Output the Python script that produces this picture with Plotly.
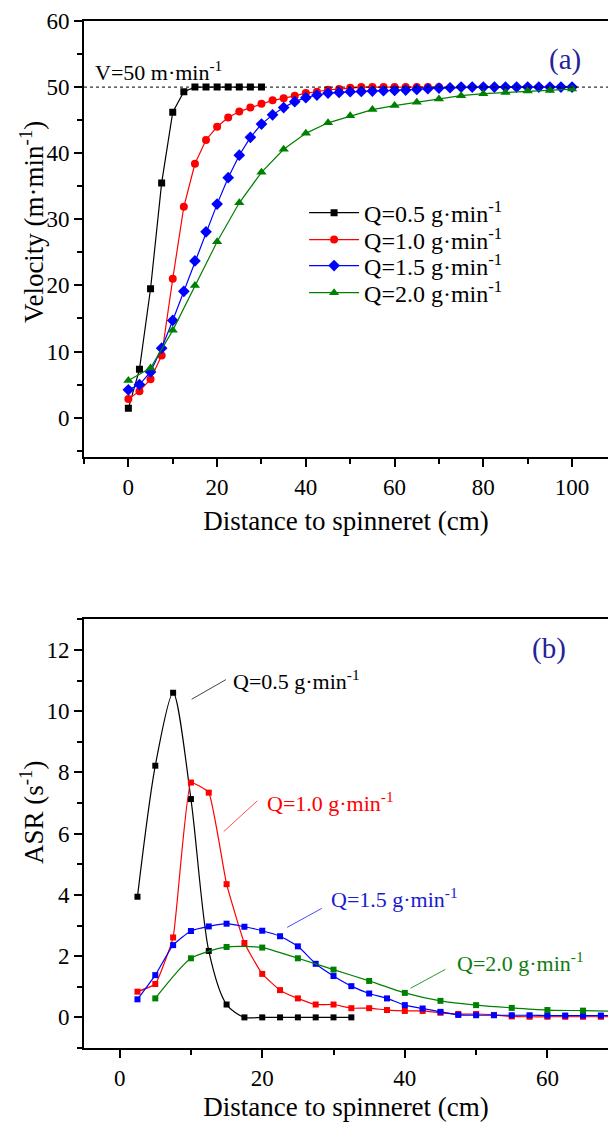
import plotly.graph_objects as go

FONT = "Liberation Serif, Times New Roman, serif"

# ---------------- (a) take-up velocity along the spin line ----------------
vel_x_q05 = [0, 2.5, 5, 7.5, 10, 12.5, 15, 17.5, 20, 22.5, 25, 27.5, 30]
vel_y_q05 = [1.4, 7.3, 19.5, 35.5, 46.2, 49.3, 50.0, 50.0, 50.0, 50.0, 50.0, 50.0, 50.0]

vel_x_q10 = [0, 2.5, 5, 7.5, 10, 12.5, 15, 17.5, 20, 22.5, 25, 27.5, 30, 32.5, 35,
             37.5, 40, 42.5, 45, 47.5, 50, 52.5, 55, 57.5, 60, 62.5, 65, 67.5, 70]
vel_y_q10 = [2.8, 4.0, 5.8, 9.4, 21.0, 31.9, 38.4, 42.0, 44.0, 45.4, 46.3, 46.9, 47.5, 48.0, 48.3,
             48.7, 49.1, 49.3, 49.6, 49.7, 49.9, 50.0, 50.0, 50.0, 50.0, 50.0, 50.0, 50.0, 50.0]

vel_x_q15 = [0, 2.5, 5, 7.5, 10, 12.5, 15, 17.5, 20, 22.5, 25, 27.5, 30, 32.5, 35,
             37.5, 40, 42.5, 45, 47.5, 50, 52.5, 55, 57.5, 60, 62.5, 65, 67.5, 70,
             72.5, 75, 77.5, 80, 82.5, 85, 87.5, 90, 92.5, 95, 97.5, 100]
vel_y_q15 = [4.2, 5.0, 6.9, 10.5, 14.7, 19.1, 23.7, 28.1, 32.3, 36.3, 39.7, 42.4, 44.4, 45.8, 46.9,
             47.8, 48.4, 48.8, 49.1, 49.2, 49.3, 49.35, 49.4, 49.45, 49.5, 49.55, 49.65, 49.75, 49.85,
             49.9, 50.0, 50.0, 50.0, 50.0, 50.0, 50.0, 50.0, 50.0, 50.0, 50.0, 50.0]

vel_x_q20 = [0, 5, 10, 15, 20, 25, 30, 35, 40, 45, 50, 55, 60, 65, 70, 75, 80, 85, 90, 95, 100]
vel_y_q20 = [5.6, 7.5, 13.2, 20.0, 26.6, 32.5, 37.1, 40.6, 43.0, 44.6, 45.65, 46.6, 47.2, 47.7,
             48.2, 48.7, 49.0, 49.2, 49.4, 49.5, 49.7]

take_up_velocity = 50

# ---------------- (b) axial strain rate ----------------
asr_x_q05 = [2.5, 5, 7.5, 10, 12.5, 15, 17.5, 20, 22.5, 25, 27.5, 30, 32.5]
asr_y_q05 = [3.94, 8.22, 10.6, 7.13, 2.17, 0.42, 0.0, 0.0, 0.0, 0.0, 0.0, 0.0, 0.0]

asr_x_q10 = [2.5, 5, 7.5, 10, 12.5, 15, 17.5, 20, 22.5, 25, 27.5, 30, 32.5, 35,
             37.5, 40, 42.5, 45, 47.5, 50, 52.5, 55, 57.5, 60, 62.5, 65, 67.5, 70]
asr_y_q10 = [0.84, 1.09, 2.61, 7.67, 7.34, 4.35, 2.43, 1.42, 0.89, 0.62, 0.42, 0.42, 0.30, 0.30,
             0.24, 0.21, 0.21, 0.15, 0.11, 0.11, 0.08, 0.03, 0.02, 0.02, 0.02, 0.02, 0.02, 0.02]

asr_x_q15 = [2.5, 5, 7.5, 10, 12.5, 15, 17.5, 20, 22.5, 25, 27.5, 30, 32.5, 35,
             37.5, 40, 42.5, 45, 47.5, 50, 52.5, 55, 57.5, 60, 62.5, 65, 67.5, 70]
asr_y_q15 = [0.59, 1.38, 2.36, 2.82, 2.97, 3.06, 2.96, 2.83, 2.65, 2.32, 1.75, 1.35, 1.02, 0.78,
             0.62, 0.40, 0.29, 0.18, 0.08, 0.07, 0.07, 0.07, 0.07, 0.06, 0.06, 0.06, 0.06, 0.06]

asr_x_q20 = [5, 10, 15, 20, 25, 30, 35, 40, 45, 50, 55, 60, 65, 70]
asr_y_q20 = [0.62, 1.93, 2.30, 2.28, 1.93, 1.56, 1.19, 0.80, 0.54, 0.40, 0.31, 0.24, 0.22, 0.20]

series_names = ["Q=0.5 g·min<sup>-1</sup>", "Q=1.0 g·min<sup>-1</sup>",
                "Q=1.5 g·min<sup>-1</sup>", "Q=2.0 g·min<sup>-1</sup>"]
colors = ["#000000", "#ff0000", "#0000ff", "#008000"]
leader_colors = ["#444444", "#ff5050", "#4a4aff", "#2f9a2f"]
label_colors = ["#000000", "#ff0000", "#1a1ad0", "#107c10"]
symbols = ["square", "circle", "diamond", "triangle-up"]
sizes = [7, 8, 9, 9]
asr_smoothing = [0.8, 0.35, 0.5, 0.6]

# one legend box per flow rate, stacked in panel (a)
legend_ids = ["legend", "legend2", "legend3", "legend4"]
legend_y = [0.813, 0.7868, 0.7615, 0.7351]

# label anchor (text start) and leader line ends for panel (b), data units
asr_label_pos = [(15.6, 11.03), (20.4, 7.05), (29.3, 3.90), (47.1, 1.82)]
asr_leaders = [((14.9, 11.03), (10.1, 10.39)), ((19.3, 7.07), (14.6, 6.07)),
               ((28.35, 3.56), (23.5, 2.94)), ((45.7, 1.57), (40.8, 0.95))]

fig = go.Figure()

vel_sets = [(vel_x_q05, vel_y_q05), (vel_x_q10, vel_y_q10),
            (vel_x_q15, vel_y_q15), (vel_x_q20, vel_y_q20)]
for i, (xs, ys) in enumerate(vel_sets):
    fig.add_trace(go.Scatter(
        x=xs, y=ys, mode="lines+markers", name=series_names[i],
        line=dict(color=colors[i], width=1.2),
        marker=dict(symbol=symbols[i], size=sizes[i], color=colors[i], line=dict(width=0)),
        xaxis="x", yaxis="y", showlegend=True, legend=legend_ids[i]))

asr_sets = [(asr_x_q05, asr_y_q05), (asr_x_q10, asr_y_q10),
            (asr_x_q15, asr_y_q15), (asr_x_q20, asr_y_q20)]
for i, (xs, ys) in enumerate(asr_sets):
    fig.add_trace(go.Scatter(
        x=xs, y=ys, mode="lines+markers", name=series_names[i],
        line=dict(color=colors[i], width=1.2, shape="spline", smoothing=asr_smoothing[i]),
        marker=dict(symbol="square", size=6, color=colors[i], line=dict(width=0)),
        xaxis="x2", yaxis="y2", showlegend=False))

axis_common = dict(
    showline=True, linecolor="black", linewidth=1.8, showgrid=False, zeroline=False,
    ticks="outside", ticklen=8, tickwidth=1.5, tickcolor="black",
    tickfont=dict(family=FONT, size=23, color="black"),
)
minor_common = dict(ticks="outside", ticklen=5, tickwidth=1.5, tickcolor="black", tick0=0)

legend_style = dict(xanchor="left", yanchor="middle", x=0.42,
                    font=dict(family=FONT, size=24, color="black"),
                    bgcolor="rgba(0,0,0,0)", borderwidth=0, itemwidth=50)

fig.update_layout(
    width=608, height=1126,
    margin=dict(l=84, r=0, t=21, b=78),
    paper_bgcolor="white", plot_bgcolor="white",
    font=dict(family=FONT, color="black"),
    xaxis=dict(**axis_common, domain=[0, 1], range=[-10, 108.1], anchor="y",
               mirror=True, tick0=0, dtick=20, minor=dict(dtick=10, **minor_common),
               title=dict(text="Distance to spinneret (cm)", font=dict(family=FONT, size=27), standoff=12)),
    yaxis=dict(**axis_common, domain=[0.5752, 1], range=[-6, 60], anchor="x",
               tick0=0, dtick=10, minor=dict(dtick=5, **minor_common)),
    xaxis2=dict(**axis_common, domain=[0, 1], range=[-5, 68.5], anchor="y2",
                mirror=True, tick0=0, dtick=20, minor=dict(dtick=10, **minor_common),
                title=dict(text="Distance to spinneret (cm)", font=dict(family=FONT, size=27), standoff=8)),
    yaxis2=dict(**axis_common, domain=[0, 0.4174], range=[-1, 13], anchor="x2",
                tick0=0, dtick=2, minor=dict(dtick=1, **minor_common)),
    legend=dict(**legend_style, y=legend_y[0]),
    legend2=dict(**legend_style, y=legend_y[1]),
    legend3=dict(**legend_style, y=legend_y[2]),
    legend4=dict(**legend_style, y=legend_y[3]),
)

# y-axis titles
fig.add_annotation(x=-0.099, y=0.8043, xref="paper", yref="paper", textangle=-90,
                   xanchor="center", yanchor="middle",
                   text="Velocity (m·min<sup>-1</sup>)", showarrow=False,
                   font=dict(family=FONT, size=27, color="black"))
fig.add_annotation(x=-0.099, y=0.2298, xref="paper", yref="paper", textangle=-90,
                   xanchor="center", yanchor="middle",
                   text="ASR (s<sup>-1</sup>)", showarrow=False,
                   font=dict(family=FONT, size=27, color="black"))

# reference take-up velocity
fig.add_shape(type="line", xref="x domain", yref="y", x0=0, x1=1,
              y0=take_up_velocity, y1=take_up_velocity,
              line=dict(color="black", width=1, dash="dot"))
fig.add_annotation(x=-8.0, y=52.4, xref="x", yref="y", xanchor="left", yanchor="middle",
                   text="V=50 m·min<sup>-1</sup>", showarrow=False,
                   font=dict(family=FONT, size=22, color="black"))

# panel tags
fig.add_annotation(x=98.3, y=54.2, xref="x", yref="y", text="(a)", showarrow=False,
                   font=dict(family=FONT, size=29, color="#23239a"))
fig.add_annotation(x=60.2, y=12.05, xref="x2", yref="y2", text="(b)", showarrow=False,
                   font=dict(family=FONT, size=29, color="#23239a"))

# labelled curves in panel (b)
for i in range(4):
    (lx0, ly0), (lx1, ly1) = asr_leaders[i]
    fig.add_shape(type="line", xref="x2", yref="y2", x0=lx0, y0=ly0, x1=lx1, y1=ly1,
                  line=dict(color=leader_colors[i], width=1))
    tx, ty = asr_label_pos[i]
    fig.add_annotation(x=tx, y=ty, xref="x2", yref="y2", xanchor="left", yanchor="middle",
                       text=series_names[i], showarrow=False,
                       font=dict(family=FONT, size=22, color=label_colors[i]))

fig.write_html("out.html")
